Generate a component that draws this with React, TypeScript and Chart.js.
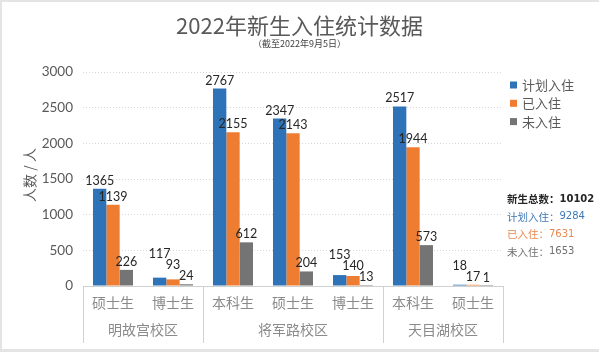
import React, { useEffect, useRef } from "react";
import { Chart, registerables } from "chart.js";

Chart.register(...registerables);

const categories = ["硕士生", "博士生", "本科生", "硕士生", "博士生", "本科生", "硕士生"];
const campuses = ["明故宫校区", "将军路校区", "天目湖校区"];
const campusSpans = [2, 3, 2];
const planned = [1365, 117, 2767, 2347, 153, 2517, 18];
const checkedIn = [1139, 93, 2155, 2143, 140, 1944, 17];
const notIn = [226, 24, 612, 204, 13, 573, 1];
const seriesNames = ["计划入住", "已入住", "未入住"];
const seriesColors = ["#2E72B8", "#EE7D31", "#747474"];
const yMax = 3000;
const yStep = 500;
const titleText = "2022年新生入住统计数据";
const subtitleText = "（截至2022年9月5日）";
const yTitleText = "人数 / 人";
const summaryLabels = ["新生总数：", "计划入住：", "已入住：", "未入住："];
const summaryValues = ["10102", "9284", "7631", "1653"];
const summaryColors = ["#262626", "#3F78B5", "#E8884F", "#707070"];

const CJK = '"Noto Sans CJK SC", "Noto Sans", sans-serif';
const NUM = 'Lato, "Noto Sans", sans-serif';

const decorPlugin = {
  id: "decor",
  beforeDraw(chart: any) {
    const ctx = chart.ctx;
    const W = chart.width;
    const H = chart.height;
    ctx.save();
    ctx.fillStyle = "#ffffff";
    ctx.fillRect(0, 0, W, H);
    ctx.fillStyle = "#e4e4e4";
    ctx.fillRect(0, 0, W, 2);
    ctx.fillRect(0, 0, 2, H);
    ctx.fillRect(0, H - 3, W, 3);
    ctx.restore();
  },
  afterDatasetsDraw(chart: any) {
    const ctx = chart.ctx;
    ctx.save();
    ctx.font = `12.5px ${NUM}`;
    ctx.fillStyle = "#262626";
    ctx.textAlign = "center";
    ctx.textBaseline = "alphabetic";
    const nSets = chart.data.datasets.length;
    const glyphH = 10;
    for (let i = 0; i < categories.length; i++) {
      const placed: { l: number; r: number; base: number }[] = [];
      for (let di = nSets - 1; di >= 0; di--) {
        const el: any = chart.getDatasetMeta(di).data[i];
        const txt = String(chart.data.datasets[di].data[i]);
        const w = ctx.measureText(txt).width;
        const l = el.x - w / 2;
        const r = el.x + w / 2;
        let base = el.y - 4;
        for (const p of placed) {
          const hOverlap = Math.min(r, p.r) - Math.max(l, p.l);
          const vOverlap = base > p.base - glyphH - 1 && base - glyphH < p.base;
          if (hOverlap > 0.5 && vOverlap) base = p.base - glyphH - 1;
        }
        placed.push({ l, r, base });
        ctx.fillText(txt, el.x, base);
      }
    }
    ctx.restore();
  },
  afterDraw(chart: any) {
    const ctx = chart.ctx;
    const area = chart.chartArea;
    const xs = chart.scales.x;
    const W = chart.width;
    ctx.save();

    // Title & subtitle
    ctx.textAlign = "center";
    ctx.textBaseline = "middle";
    ctx.fillStyle = "#595959";
    ctx.font = `22px ${CJK}`;
    ctx.fillText(titleText, W / 2, 26);
    ctx.font = `9px ${CJK}`;
    ctx.fillStyle = "#404040";
    ctx.fillText(subtitleText, W / 2, 43.5);

    // Y axis title
    ctx.save();
    ctx.translate(30, (area.top + area.bottom) / 2 - 4);
    ctx.rotate(-Math.PI / 2);
    ctx.font = `14px ${CJK}`;
    ctx.fillStyle = "#595959";
    ctx.fillText(yTitleText, 0, 0);
    ctx.restore();

    // X axis line
    ctx.strokeStyle = "#d0d0d0";
    ctx.lineWidth = 1;
    ctx.beginPath();
    ctx.moveTo(area.left, Math.round(area.bottom) + 0.5);
    ctx.lineTo(area.right, Math.round(area.bottom) + 0.5);
    ctx.stroke();

    // Category labels
    ctx.font = `14px ${CJK}`;
    ctx.fillStyle = "#8a8a8a";
    categories.forEach((c, i) => {
      ctx.fillText(c, xs.getPixelForValue(i), area.bottom + 17);
    });

    // Group dividers and labels
    const edge = (i: number) => {
      if (i <= 0) return xs.left;
      if (i >= categories.length) return xs.right;
      return (xs.getPixelForValue(i - 1) + xs.getPixelForValue(i)) / 2;
    };
    let start = 0;
    const lineBottom = area.bottom + 57;
    const drawV = (x: number) => {
      ctx.beginPath();
      ctx.moveTo(Math.round(x) + 0.5, area.bottom);
      ctx.lineTo(Math.round(x) + 0.5, lineBottom);
      ctx.stroke();
    };
    drawV(edge(0));
    campuses.forEach((name, gi) => {
      const end = start + campusSpans[gi];
      const x0 = edge(start);
      const x1 = edge(end);
      drawV(x1);
      ctx.fillText(name, (x0 + x1) / 2, area.bottom + 44);
      start = end;
    });

    // Legend
    ctx.textAlign = "left";
    ctx.font = `13px ${CJK}`;
    seriesNames.forEach((n, i) => {
      const y = 85 + i * 18.3;
      ctx.fillStyle = seriesColors[i];
      ctx.fillRect(510, y - 3.5, 7, 7);
      ctx.fillStyle = "#595959";
      ctx.fillText(n, 522, y);
    });

    // Summary
    summaryLabels.forEach((lab, i) => {
      const y = 199 + i * 17.6;
      ctx.fillStyle = summaryColors[i];
      ctx.font = `${i === 0 ? "bold " : ""}10.5px ${CJK}`;
      ctx.fillText(lab, 507, y);
      const w = ctx.measureText(lab).width;
      ctx.font = `${i === 0 ? "bold " : ""}10px "DejaVu Sans", sans-serif`;
      ctx.fillText(summaryValues[i], 507 + w, y);
    });

    ctx.restore();
  },
};

export default function App() {
  const ref = useRef<HTMLCanvasElement | null>(null);
  useEffect(() => {
    if (!ref.current) return;
    const chart = new Chart(ref.current, {
      type: "bar",
      data: {
        labels: categories,
        datasets: [
          { label: seriesNames[0], data: planned, backgroundColor: seriesColors[0] },
          { label: seriesNames[1], data: checkedIn, backgroundColor: seriesColors[1] },
          { label: seriesNames[2], data: notIn, backgroundColor: seriesColors[2] },
        ],
      },
      options: {
        responsive: false,
        animation: false,
        devicePixelRatio: 1,
        layout: { padding: { top: 72, right: 96, bottom: 66, left: 0 } },
        datasets: {
          bar: { categoryPercentage: 0.667, barPercentage: 1.0 },
        },
        plugins: {
          legend: { display: false },
          title: { display: false },
          tooltip: { enabled: false },
        },
        scales: {
          x: {
            type: "category",
            display: false,
            offset: true,
          },
          y: {
            min: 0,
            max: yMax,
            afterFit: (scale: any) => {
              scale.width = 83;
            },
            ticks: {
              stepSize: yStep,
              padding: 10,
              color: "#595959",
              font: { family: NUM, size: 13.5 },
              callback: (v: any) => String(v),
            },
            grid: {
              color: "#d6d6d6",
              drawTicks: false,
            },
            border: { display: false, dash: [1, 2] },
          },
        },
      },
      plugins: [decorPlugin],
    } as any);
    return () => chart.destroy();
  }, []);
  return (
    <div style={{ position: "fixed", left: 0, top: 0, width: 599, height: 352, background: "#fff" }}>
      <canvas ref={ref} width={599} height={352} />
    </div>
  );
}
